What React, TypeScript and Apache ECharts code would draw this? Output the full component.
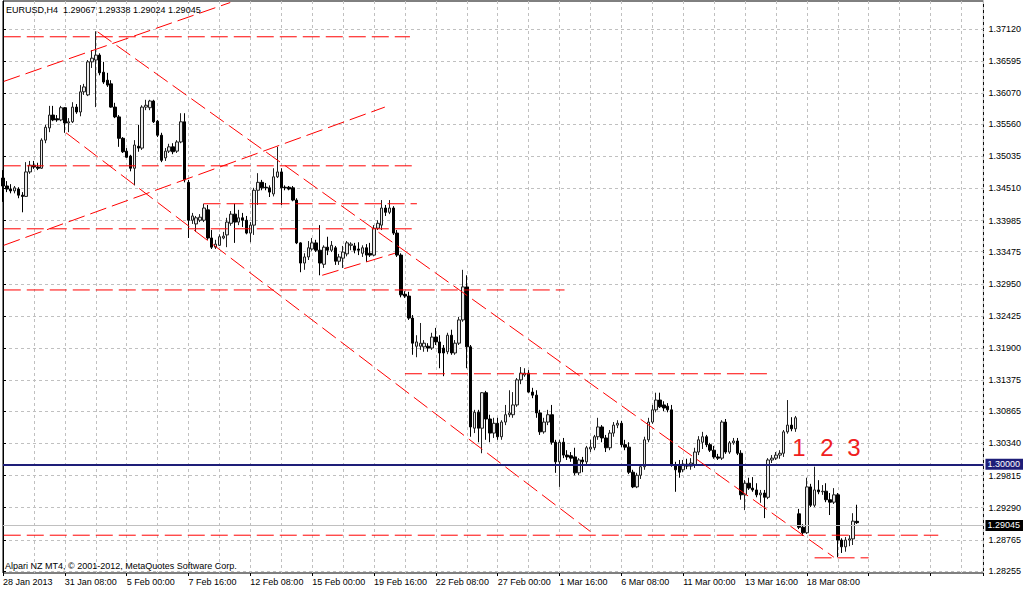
import React, { useEffect, useRef } from 'react';
import * as echarts from 'echarts';

// ---- data (EURUSD H4, one value per bar) ----
const opens = [
  1.3468, 1.3455, 1.3450, 1.3447, 1.3450, 1.3440, 1.3438, 1.3478, 1.3489, 1.3486,
  1.3484, 1.3530, 1.3550, 1.3571, 1.3565, 1.3563, 1.3583, 1.3558, 1.3560, 1.3584,
  1.3576, 1.3609, 1.3604, 1.3658, 1.3661, 1.3669, 1.3641, 1.3628, 1.3622, 1.3584,
  1.3568, 1.3533, 1.3512, 1.3504, 1.3484, 1.3520, 1.3517, 1.3584, 1.3583, 1.3594,
  1.3561, 1.3538, 1.3501, 1.3512, 1.3519, 1.3512, 1.3527, 1.3560, 1.3461, 1.3399,
  1.3393, 1.3399, 1.3399, 1.3416, 1.3370, 1.3355, 1.3358, 1.3370, 1.3375, 1.3394,
  1.3409, 1.3396, 1.3403, 1.3399, 1.3378, 1.3391, 1.3448, 1.3461, 1.3453, 1.3452,
  1.3442, 1.3470, 1.3478, 1.3453, 1.3453, 1.3452, 1.3432, 1.3362, 1.3329, 1.3339,
  1.3352, 1.3362, 1.3350, 1.3327, 1.3355, 1.3350, 1.3354, 1.3332, 1.3337, 1.3344,
  1.3358, 1.3357, 1.3352, 1.3345, 1.3354, 1.3345, 1.3342, 1.3386, 1.3391, 1.3419,
  1.3412, 1.3419, 1.3378, 1.3342, 1.3278, 1.3275, 1.3239, 1.3193, 1.3193, 1.3192,
  1.3193, 1.3190, 1.3208, 1.3200, 1.3190, 1.3184, 1.3211, 1.3182, 1.3198, 1.3236,
  1.3290, 1.3192, 1.3059, 1.3085, 1.3059, 1.3117, 1.3074, 1.3051, 1.3067, 1.3045,
  1.3069, 1.3081, 1.3081, 1.3097, 1.3138, 1.3146, 1.3149, 1.3118, 1.3113, 1.3084,
  1.3053, 1.3069, 1.3081, 1.3036, 1.3004, 1.3036, 1.3015, 1.3014, 1.3012, 1.2986,
  1.3007, 1.3004, 1.3025, 1.3027, 1.3045, 1.3061, 1.3043, 1.3027, 1.3051, 1.3064,
  1.3067, 1.3032, 1.3028, 1.2987, 1.2963, 1.2982, 1.2996, 1.3040, 1.3069, 1.3089,
  1.3105, 1.3097, 1.3095, 1.3089, 1.2999, 1.2997, 1.2991, 1.3000, 1.2997, 1.2999,
  1.3020, 1.3036, 1.3045, 1.3032, 1.3023, 1.3012, 1.3010, 1.3069, 1.3020, 1.3035,
  1.3038, 1.3018, 1.2950, 1.2969, 1.2961, 1.2958, 1.2950, 1.2953, 1.2946, 1.3007,
  1.3010, 1.3015, 1.3018, 1.3053, 1.3064, 1.3058, 1.2919, 1.2897, 1.2888, 1.2963,
  1.2933, 1.2958, 1.2955, 1.2956, 1.2942, 1.2938, 1.2950, 1.2876, 1.2865, 1.2876,
  1.2878, 1.29067,
];
const closes = [
  1.3455, 1.3450, 1.3447, 1.3452, 1.3440, 1.3438, 1.3478, 1.3489, 1.3486, 1.3484,
  1.3530, 1.3551, 1.3571, 1.3563, 1.3563, 1.3583, 1.3558, 1.3560, 1.3584, 1.3576,
  1.3609, 1.3617, 1.3658, 1.3664, 1.3669, 1.3640, 1.3625, 1.3620, 1.3584, 1.3568,
  1.3533, 1.3511, 1.3502, 1.3484, 1.3522, 1.3517, 1.3584, 1.3587, 1.3594, 1.3560,
  1.3538, 1.3497, 1.3512, 1.3519, 1.3511, 1.3527, 1.3560, 1.3465, 1.3399, 1.3406,
  1.3403, 1.3404, 1.3419, 1.3370, 1.3355, 1.3360, 1.3372, 1.3373, 1.3396, 1.3409,
  1.3396, 1.3403, 1.3399, 1.3378, 1.3391, 1.3448, 1.3461, 1.3452, 1.3452, 1.3445,
  1.3470, 1.3478, 1.3452, 1.3452, 1.3450, 1.3432, 1.3362, 1.3329, 1.3339, 1.3354,
  1.3362, 1.3350, 1.3329, 1.3355, 1.3350, 1.3358, 1.3332, 1.3339, 1.3347, 1.3362,
  1.3360, 1.3350, 1.3350, 1.3354, 1.3342, 1.3342, 1.3386, 1.3394, 1.3419, 1.3412,
  1.3419, 1.3378, 1.3342, 1.3277, 1.3275, 1.3239, 1.3198, 1.3200, 1.3198, 1.3198,
  1.3190, 1.3208, 1.3200, 1.3182, 1.3182, 1.3211, 1.3182, 1.3198, 1.3236, 1.3290,
  1.3192, 1.3061, 1.3085, 1.3059, 1.3117, 1.3074, 1.3051, 1.3067, 1.3045, 1.3069,
  1.3081, 1.3084, 1.3097, 1.3138, 1.3149, 1.3149, 1.3118, 1.3113, 1.3084, 1.3053,
  1.3069, 1.3081, 1.3036, 1.3004, 1.3036, 1.3015, 1.3012, 1.3010, 1.2986, 1.3007,
  1.3004, 1.3027, 1.3028, 1.3045, 1.3061, 1.3043, 1.3027, 1.3051, 1.3064, 1.3067,
  1.3032, 1.3028, 1.2987, 1.2963, 1.2982, 1.2996, 1.3040, 1.3069, 1.3089, 1.3105,
  1.3094, 1.3092, 1.3089, 1.2999, 1.2991, 1.2987, 1.3000, 1.2997, 1.3002, 1.3020,
  1.3040, 1.3045, 1.3032, 1.3023, 1.3012, 1.3010, 1.3069, 1.3020, 1.3035, 1.3038,
  1.3018, 1.2950, 1.2969, 1.2961, 1.2958, 1.2950, 1.2953, 1.2946, 1.3007, 1.3010,
  1.3015, 1.3018, 1.3053, 1.3064, 1.3058, 1.3076, 1.2897, 1.2888, 1.2963, 1.2933,
  1.2958, 1.2955, 1.2956, 1.2942, 1.2938, 1.2950, 1.2876, 1.2865, 1.2876, 1.2878,
  1.2907, 1.29045,
];
const lows = [
  1.3429, 1.3445, 1.3443, 1.3443, 1.3435, 1.3412, 1.3437, 1.3475, 1.3483, 1.3481,
  1.3483, 1.3525, 1.3543, 1.3561, 1.3560, 1.3561, 1.3542, 1.3543, 1.3558, 1.3573,
  1.3569, 1.3604, 1.3602, 1.3648, 1.3584, 1.3636, 1.3622, 1.3617, 1.3583, 1.3566,
  1.3519, 1.3509, 1.3501, 1.3479, 1.3456, 1.3511, 1.3514, 1.3579, 1.3579, 1.3558,
  1.3535, 1.3494, 1.3496, 1.3509, 1.3507, 1.3509, 1.3525, 1.3461, 1.3370, 1.3393,
  1.3380, 1.3396, 1.3396, 1.3367, 1.3352, 1.3352, 1.3357, 1.3368, 1.3355, 1.3390,
  1.3362, 1.3391, 1.3388, 1.3376, 1.3363, 1.3375, 1.3424, 1.3448, 1.3448, 1.3437,
  1.3438, 1.3468, 1.3424, 1.3448, 1.3448, 1.3430, 1.3360, 1.3314, 1.3318, 1.3334,
  1.3349, 1.3347, 1.3309, 1.3321, 1.3342, 1.3347, 1.3326, 1.3326, 1.3321, 1.3340,
  1.3350, 1.3345, 1.3342, 1.3339, 1.3331, 1.3339, 1.3340, 1.3383, 1.3383, 1.3406,
  1.3409, 1.3375, 1.3339, 1.3273, 1.3272, 1.3236, 1.3179, 1.3175, 1.3187, 1.3184,
  1.3184, 1.3187, 1.3195, 1.3157, 1.3144, 1.3180, 1.3179, 1.3179, 1.3195, 1.3233,
  1.3157, 1.3045, 1.3051, 1.3036, 1.3018, 1.3040, 1.3036, 1.3043, 1.3040, 1.3040,
  1.3064, 1.3077, 1.3076, 1.3094, 1.3131, 1.3143, 1.3117, 1.3108, 1.3076, 1.3048,
  1.3050, 1.3064, 1.3032, 1.2986, 1.2963, 1.3010, 1.3007, 1.3004, 1.2982, 1.2982,
  1.2987, 1.2999, 1.3020, 1.3023, 1.3040, 1.3036, 1.3020, 1.3023, 1.3045, 1.3059,
  1.3028, 1.3023, 1.2984, 1.2961, 1.2961, 1.2976, 1.2991, 1.3036, 1.3066, 1.3085,
  1.3092, 1.3087, 1.3085, 1.2996, 1.2955, 1.2978, 1.2987, 1.2992, 1.2991, 1.2994,
  1.3015, 1.3025, 1.3028, 1.3020, 1.3009, 1.3007, 1.3007, 1.3017, 1.3017, 1.3032,
  1.3015, 1.2942, 1.2925, 1.2958, 1.2955, 1.2946, 1.2937, 1.2912, 1.2943, 1.3002,
  1.3007, 1.3009, 1.3012, 1.3050, 1.3054, 1.3053, 1.2894, 1.2883, 1.2886, 1.2930,
  1.2930, 1.2951, 1.2950, 1.2938, 1.2917, 1.2935, 1.2848, 1.2855, 1.2857, 1.2866,
  1.2868, 1.29024,
];
const highs = [
  1.3481, 1.3463, 1.3458, 1.3455, 1.3453, 1.3445, 1.3494, 1.3496, 1.3496, 1.3493,
  1.3533, 1.3555, 1.3586, 1.3586, 1.3571, 1.3586, 1.3584, 1.3566, 1.3592, 1.3589,
  1.3620, 1.3622, 1.3661, 1.3677, 1.3708, 1.3672, 1.3658, 1.3640, 1.3628, 1.3591,
  1.3571, 1.3535, 1.3517, 1.3506, 1.3530, 1.3555, 1.3587, 1.3596, 1.3596, 1.3596,
  1.3563, 1.3542, 1.3517, 1.3524, 1.3525, 1.3530, 1.3574, 1.3574, 1.3465, 1.3411,
  1.3406, 1.3409, 1.3426, 1.3424, 1.3383, 1.3367, 1.3376, 1.3380, 1.3403, 1.3414,
  1.3426, 1.3416, 1.3411, 1.3406, 1.3396, 1.3452, 1.3476, 1.3465, 1.3460, 1.3456,
  1.3484, 1.3519, 1.3484, 1.3456, 1.3455, 1.3455, 1.3435, 1.3363, 1.3345, 1.3365,
  1.3370, 1.3367, 1.3391, 1.3358, 1.3372, 1.3365, 1.3357, 1.3344, 1.3357, 1.3365,
  1.3363, 1.3362, 1.3363, 1.3358, 1.3360, 1.3362, 1.3391, 1.3399, 1.3432, 1.3424,
  1.3432, 1.3422, 1.3383, 1.3345, 1.3283, 1.3282, 1.3244, 1.3211, 1.3231, 1.3203,
  1.3198, 1.3215, 1.3223, 1.3211, 1.3195, 1.3215, 1.3220, 1.3203, 1.3241, 1.3318,
  1.3309, 1.3195, 1.3089, 1.3089, 1.3118, 1.3120, 1.3081, 1.3076, 1.3076, 1.3072,
  1.3097, 1.3121, 1.3118, 1.3141, 1.3159, 1.3157, 1.3154, 1.3125, 1.3121, 1.3089,
  1.3076, 1.3089, 1.3097, 1.3040, 1.3040, 1.3043, 1.3023, 1.3020, 1.3027, 1.3010,
  1.3012, 1.3030, 1.3040, 1.3048, 1.3076, 1.3064, 1.3048, 1.3056, 1.3069, 1.3072,
  1.3071, 1.3040, 1.3036, 1.2991, 1.2986, 1.2999, 1.3045, 1.3076, 1.3097, 1.3117,
  1.3117, 1.3103, 1.3100, 1.3097, 1.3004, 1.3007, 1.3007, 1.3009, 1.3010, 1.3027,
  1.3046, 1.3053, 1.3048, 1.3035, 1.3030, 1.3017, 1.3072, 1.3074, 1.3038, 1.3043,
  1.3043, 1.3023, 1.2974, 1.2978, 1.2979, 1.2969, 1.2958, 1.2958, 1.3010, 1.3015,
  1.3020, 1.3023, 1.3056, 1.3105, 1.3077, 1.3079, 1.2927, 1.2902, 1.2978, 1.2968,
  1.2996, 1.2974, 1.2966, 1.2969, 1.2953, 1.2961, 1.2953, 1.2879, 1.2881, 1.2884,
  1.2920, 1.29338,
];

// time labels, one every 16 bars
const timeLabels = [
  '28 Jan 2013', '31 Jan 08:00', '5 Feb 00:00', '7 Feb 16:00', '12 Feb 08:00',
  '15 Feb 00:00', '19 Feb 16:00', '22 Feb 08:00', '27 Feb 00:00', '1 Mar 16:00',
  '6 Mar 08:00', '11 Mar 00:00', '13 Mar 16:00', '18 Mar 08:00',
];
const priceTicks = [
  1.28255, 1.28765, 1.2929, 1.29815, 1.3034, 1.30865, 1.31375, 1.319, 1.32425,
  1.3295, 1.33475, 1.33985, 1.3451, 1.35035, 1.3556, 1.3607, 1.36595, 1.3712,
];

// drawn objects: [barIndex, price] pairs
const trendLines = [
  [[24.5, 1.3707], [215.0, 1.2848]],
  [[16.3, 1.3542], [152.0, 1.2890]],
  [[0.2, 1.3626], [58.8, 1.3755]],
  [[0.2, 1.3358], [98.8, 1.3584]],
  [[82.6, 1.3309], [101.4, 1.3345]],
];
const levelPrices = [1.3699, 1.3488, 1.3426, 1.3385, 1.3285, 1.3148, 1.2884, 1.2847];
const levelFrom = [0.2, 0.2, 51.9, 0.2, 0.2, 104.0, 0.2, 210.0];
const levelTo = [105.3, 105.8, 107.1, 106.6, 145.3, 198.7, 242.0, 224.0];

const roundLevel = 1.3;
const bidPrice = 1.29045;
const titleText = 'EURUSD,H4  1.29067 1.29338 1.29024 1.29045';
const copyrightText = 'Alpari NZ MT4, \u00a9 2001-2012, MetaQuotes Software Corp.';
const waveMarks = ['1', '2', '3'];

const X_MAX = 253.7;
const Y_MIN = 1.28222;
const Y_MAX = 1.37575;
const FONT = '"Liberation Sans", Arial, sans-serif';

export default function App() {
  const ref = useRef<HTMLDivElement>(null);
  useEffect(() => {
    if (!ref.current) return;
    const chart = echarts.init(ref.current, null, { renderer: 'svg' });
    const candleData = opens.map((o, i) => [i, o, closes[i], lows[i], highs[i]]);
    const red = { color: '#ff0000', width: 1, type: [17, 6] as any };

    const segs: any[] = [];
    trendLines.forEach((t) => segs.push(t));
    levelPrices.forEach((p, k) => segs.push([[levelFrom[k], p], [levelTo[k], p]]));

    const lineSeries = segs.map((s) => ({
      type: 'line',
      data: s,
      symbol: 'none',
      silent: true,
      clip: true,
      lineStyle: red,
      z: 5,
    }));

    chart.setOption({
      animation: false,
      backgroundColor: '#ffffff',
      grid: {
        left: 2, right: 39, top: 1, bottom: 18,
        show: true, borderColor: '#000', borderWidth: 1, backgroundColor: '#fff',
      },
      xAxis: [
        {
          type: 'value', min: 0, max: X_MAX, interval: 8,
          axisLine: { show: false }, axisTick: { show: false }, axisLabel: { show: false },
          splitLine: { show: true, lineStyle: { color: '#c0c0c0', width: 1, type: [3, 3] } },
        },
        {
          type: 'value', min: 0, max: X_MAX, interval: 16, position: 'bottom',
          axisLine: { show: false },
          axisTick: { show: true, length: 3, lineStyle: { color: '#000' } },
          axisLabel: {
            show: true, align: 'left', margin: 4, fontSize: 9, fontFamily: FONT, color: '#000',
            formatter: (v: number) => {
              const k = Math.round(v);
              if (Math.abs(v - k) > 1e-6 || k % 16 !== 0) return '';
              return timeLabels[k / 16] ?? '';
            },
          },
          splitLine: { show: false },
        },
      ],
      yAxis: {
        type: 'value', position: 'right', min: Y_MIN, max: Y_MAX,
        axisLine: { show: true, lineStyle: { color: '#000' } },
        axisTick: { show: true, length: 3, customValues: priceTicks, lineStyle: { color: '#000' } },
        axisLabel: {
          customValues: priceTicks, margin: 5, fontSize: 9, fontFamily: FONT, color: '#000',
          formatter: (v: number) => v.toFixed(5),
        },
        splitLine: { show: true, lineStyle: { color: '#c0c0c0', width: 1, type: [3, 3] } },
      },
      graphic: [
        { type: 'text', left: 6, top: 5, style: { text: titleText, font: `9px ${FONT}`, fill: '#000' }, z: 20 },
        { type: 'text', left: 5, top: 561, style: { text: copyrightText, font: `9px ${FONT}`, fill: '#000' }, z: 20 },
        ...waveMarks.map((m, k) => ({
          type: 'text', x: [799, 827, 854][k], y: 447,
          style: { text: m, font: `24px ${FONT}`, fill: '#f02020', align: 'center', verticalAlign: 'middle' },
          z: 20,
        })),
      ],
      series: [
        {
          type: 'candlestick',
          data: candleData,
          encode: { x: 0, y: [1, 2, 3, 4] },
          barWidth: 3,
          clip: true,
          itemStyle: {
            color: '#e8e8e8', color0: '#000000',
            borderColor: '#202020', borderColor0: '#000000', borderWidth: 1,
          },
          markLine: {
            silent: true,
            symbol: ['none', 'none'],
            animation: false,
            data: [
              {
                yAxis: roundLevel,
                lineStyle: { color: '#1e1e78', width: 2, type: 'solid' },
                label: {
                  show: true, position: 'end', distance: 2, formatter: roundLevel.toFixed(5),
                  backgroundColor: '#1e1e78', color: '#fff', fontSize: 9, fontFamily: FONT,
                  padding: [1, 3, 1, 2],
                },
              },
              {
                yAxis: bidPrice,
                lineStyle: { color: '#c0c0c0', width: 1, type: 'solid' },
                label: {
                  show: true, position: 'end', distance: 2, formatter: bidPrice.toFixed(5),
                  backgroundColor: '#000', color: '#fff', fontSize: 9, fontFamily: FONT,
                  padding: [1, 3, 1, 2],
                },
              },
            ],
          },
        },
        ...lineSeries,
      ],
    });
    return () => chart.dispose();
  }, []);
  return (
    <div
      ref={ref}
      style={{ position: 'absolute', left: 0, top: 0, width: 1024, height: 591, background: '#fff' }}
    />
  );
}
